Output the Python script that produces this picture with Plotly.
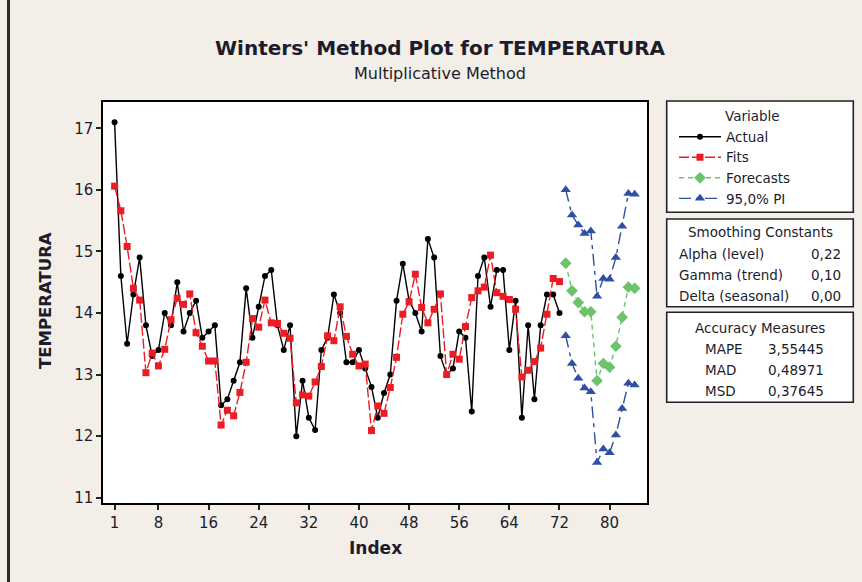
import plotly.graph_objects as go

# ---------------- data ----------------
actual = [17.1, 14.6, 13.5, 14.3, 14.9, 13.8, 13.3, 13.4, 14.0, 13.8,
          14.5, 13.7, 14.0, 14.2, 13.6, 13.7, 13.8, 12.5, 12.6, 12.9,
          13.2, 14.4, 13.6, 14.1, 14.6, 14.7, 13.8, 13.4, 13.8, 12.0,
          12.9, 12.3, 12.1, 13.4, 13.6, 14.3, 14.0, 13.2, 13.2, 13.4,
          13.1, 12.8, 12.3, 12.7, 13.0, 14.2, 14.8, 14.2, 14.0, 13.7,
          15.2, 14.9, 13.3, 13.0, 13.1, 13.7, 13.6, 12.4, 14.6, 14.9,
          14.1, 14.7, 14.7, 13.4, 14.2, 12.3, 13.8, 12.6, 13.8, 14.3,
          14.3, 14.0]
fits = [16.06, 15.66, 15.08, 14.40, 14.21, 13.03, 13.35, 13.14, 13.41, 13.89,
        14.24, 14.14, 14.31, 13.68, 13.46, 13.22, 13.22, 12.18, 12.42, 12.33,
        12.71, 13.20, 13.91, 13.77, 14.21, 13.84, 13.83, 13.67, 13.59, 12.54,
        12.67, 12.65, 12.88, 13.13, 13.63, 13.55, 14.10, 13.62, 13.33, 13.14,
        13.17, 12.09, 12.49, 12.37, 12.79, 13.28, 13.98, 14.18, 14.63, 14.09,
        13.84, 14.06, 14.31, 13.00, 13.33, 13.25, 13.78, 14.25, 14.36, 14.42,
        14.94, 14.33, 14.27, 14.22, 14.06, 12.96, 13.07, 13.21, 13.43, 13.98,
        14.56, 14.51]
forecasts = [14.81, 14.36, 14.17, 14.02, 14.02, 12.90, 13.18, 13.12, 13.46, 13.93, 14.42, 14.40]
pi_upper = [16.00, 15.59, 15.43, 15.29, 15.33, 14.27, 14.56, 14.55, 14.90, 15.41, 15.94, 15.93]
pi_lower = [13.63, 13.18, 12.94, 12.78, 12.72, 11.57, 11.79, 11.73, 12.02, 12.45, 12.86, 12.83]

idx_actual = list(range(1, len(actual) + 1))
idx_fc = list(range(len(actual) + 1, len(actual) + 1 + len(forecasts)))

x_ticks = [1, 8, 16, 24, 32, 40, 48, 56, 64, 72, 80]
y_ticks = [11, 12, 13, 14, 15, 16, 17]

smoothing = [("Alpha (level)", "0,22"), ("Gamma (trend)", "0,10"), ("Delta (seasonal)", "0,00")]
accuracy = [("MAPE", "3,55445"), ("MAD", "0,48971"), ("MSD", "0,37645")]

# ---------------- layout geometry ----------------
W, H = 862, 582
ML, MR, MT, MB = 103, 215, 102, 79
PW, PH = W - ML - MR, H - MT - MB


def px(x):
    return (x - ML) / PW


def py(y):
    return (H - MB - y) / PH


FONT = "DejaVu Sans"
TXT = "#1c1c2c"
BLACK = "#000000"
RED = "#EC1C24"
GREEN = "#6CC36C"
BLUE = "#2F4FA3"

fig = go.Figure()
fig.add_trace(go.Scatter(x=idx_actual, y=actual, name="Actual", mode="lines+markers",
                         line=dict(color=BLACK, width=1.4),
                         marker=dict(symbol="circle", size=6, color=BLACK)))
fig.add_trace(go.Scatter(x=idx_actual, y=fits, name="Fits", mode="lines+markers",
                         line=dict(color=RED, width=1.4, dash="10px,3px"),
                         marker=dict(symbol="square", size=7, color=RED)))
fig.add_trace(go.Scatter(x=idx_fc, y=forecasts, name="Forecasts", mode="lines+markers",
                         line=dict(color=GREEN, width=1.4, dash="5px,4px"),
                         marker=dict(symbol="diamond", size=9, color=GREEN)))
fig.add_trace(go.Scatter(x=idx_fc, y=pi_upper, name="95,0% PI", mode="lines+markers",
                         legendgroup="pi",
                         line=dict(color=BLUE, width=1.4, dash="12px,5px,4px,5px"),
                         marker=dict(symbol="triangle-up", size=9, color=BLUE)))
fig.add_trace(go.Scatter(x=idx_fc, y=pi_lower, name="95,0% PI", mode="lines+markers",
                         legendgroup="pi", showlegend=False,
                         line=dict(color=BLUE, width=1.4, dash="12px,5px,4px,5px"),
                         marker=dict(symbol="triangle-up", size=9, color=BLUE)))

shapes = []
# outer frame line at the left
shapes.append(dict(type="line", xref="paper", yref="paper", x0=px(8.5), x1=px(8.5),
                   y0=py(-5), y1=py(H + 5), line=dict(color="#2a2a2a", width=3), layer="above"))
# info boxes
for (y0, y1) in [(101, 212.3), (219, 306.7), (312.3, 402.3)]:
    shapes.append(dict(type="rect", xref="paper", yref="paper",
                       x0=px(666.7), x1=px(853.3), y0=py(y1), y1=py(y0),
                       line=dict(color="#222222", width=1.6), fillcolor="white", layer="below"))

ann = []


def add_text(text, x, y, size=13.5, bold=False, xanchor="center", angle=0):
    ann.append(dict(text=("<b>%s</b>" % text) if bold else text, xref="paper", yref="paper",
                    x=px(x), y=py(y), xanchor=xanchor, yanchor="middle", showarrow=False,
                    textangle=angle, font=dict(family=FONT, size=size, color=TXT)))


add_text("Winters' Method Plot for TEMPERATURA", 440, 48, size=20, bold=True)
add_text("Multiplicative Method", 440, 74, size=16)
add_text("Index", 375, 548, size=17, bold=True)
add_text("TEMPERATURA", 45, 301, size=16.5, bold=True, angle=-90)
add_text("Variable", 752.7, 115.7, size=13.5)
add_text("Smoothing Constants", 760, 232, size=13.5)
for k, (lab, val) in enumerate(smoothing):
    yy = [254.3, 275.3, 296.3][k]
    add_text(lab, 676.7, yy, xanchor="left")
    add_text(val, 842.7, yy, xanchor="right")
add_text("Accuracy Measures", 760, 327.7, size=13.5)
for k, (lab, val) in enumerate(accuracy):
    yy = [349, 370, 390.7][k]
    add_text(lab, 702.7, yy, xanchor="left")
    add_text(val, 766, yy, xanchor="left")

fig.update_layout(
    width=W, height=H,
    margin=dict(l=ML, r=MR, t=MT, b=MB, pad=0),
    paper_bgcolor="#F3EFE8", plot_bgcolor="white",
    font=dict(family=FONT, color=TXT),
    showlegend=True,
    legend=dict(x=px(674), y=py(121.4), xanchor="left", yanchor="top",
                bgcolor="rgba(0,0,0,0)", borderwidth=0,
                font=dict(family=FONT, size=13.5, color=TXT), itemwidth=42,
                tracegroupgap=0),
    shapes=shapes, annotations=ann,
    xaxis=dict(range=[-0.85, 85.97], tickvals=x_ticks, ticks="outside", ticklen=5, tickwidth=1.5,
               tickcolor="#222", showgrid=False, zeroline=False, showline=True, linecolor=BLACK,
               linewidth=1.5, mirror=True, tickfont=dict(family=FONT, size=15, color=TXT)),
    yaxis=dict(range=[10.914, 17.427], tickvals=y_ticks, ticks="outside", ticklen=5, tickwidth=1.5,
               tickcolor="#222", showgrid=False, zeroline=False, showline=True, linecolor=BLACK,
               linewidth=1.5, mirror=True, tickfont=dict(family=FONT, size=15, color=TXT)),
)

fig.write_html("out.html")
